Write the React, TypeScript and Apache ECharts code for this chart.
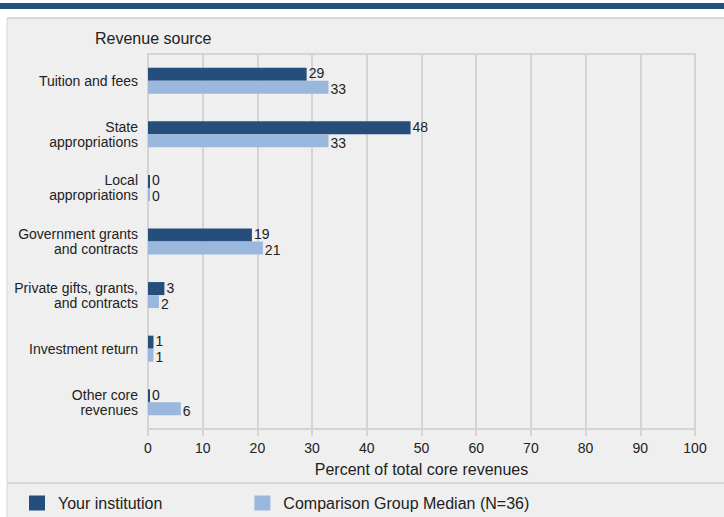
import React, { useEffect, useRef } from "react";
import * as echarts from "echarts";

const categories = [
  "Tuition and fees",
  "State\nappropriations",
  "Local\nappropriations",
  "Government grants\nand contracts",
  "Private gifts, grants,\nand contracts",
  "Investment return",
  "Other core\nrevenues",
];
const yourInstitution = [29, 48, 0, 19, 3, 1, 0];
const comparisonMedian = [33, 33, 0, 21, 2, 1, 6];
const seriesNames = ["Your institution", "Comparison Group Median (N=36)"];
const xTicks = { min: 0, max: 100, interval: 10 };

const FONT = "'Liberation Sans', Arial, sans-serif";
const DARK = "#254e7b";
const LIGHT = "#9ab8de";
const GRIDC = "#d4d4d4";

export default function App() {
  const ref = useRef<HTMLDivElement>(null);
  useEffect(() => {
    if (!ref.current) return;
    const chart = echarts.init(ref.current, undefined, { renderer: "svg" });
    chart.setOption({
      animation: false,
      backgroundColor: "#ffffff",
      textStyle: { fontFamily: FONT },
      graphic: [
        { type: "rect", z: -10, shape: { x: 0, y: 3, width: 724, height: 6 }, style: { fill: DARK } },
        { type: "rect", z: -10, shape: { x: 7, y: 18, width: 717, height: 499 }, style: { fill: "#efefef" } },
        { type: "line", z: -9, shape: { x1: 7, y1: 18, x2: 724, y2: 18 }, style: { stroke: "#d8d8d8", lineWidth: 2 } },
        { type: "line", z: -9, shape: { x1: 7, y1: 18, x2: 7, y2: 517 }, style: { stroke: "#d8d8d8", lineWidth: 1 } },
        { type: "line", z: -9, shape: { x1: 7, y1: 483, x2: 724, y2: 483 }, style: { stroke: "#d8d8d8", lineWidth: 2 } },
        {
          type: "text",
          left: 95,
          top: 30,
          style: { text: "Revenue source", fill: "#222", font: `16px ${FONT}` },
        },
      ],
      legend: {
        left: 24,
        top: 490,
        itemWidth: 16,
        itemHeight: 15,
        itemGap: 92,
        icon: "rect",
        textStyle: { fontSize: 16, color: "#222", fontFamily: FONT, padding: [0, 0, 0, 8] },
        data: seriesNames,
      },
      grid: {
        left: 148,
        right: 29,
        top: 54,
        bottom: 88,
        show: true,
        borderColor: GRIDC,
        borderWidth: 2,
        backgroundColor: "transparent",
      },
      xAxis: {
        type: "value",
        min: xTicks.min,
        max: xTicks.max,
        interval: xTicks.interval,
        name: "Percent of total core revenues",
        nameLocation: "middle",
        nameGap: 32,
        nameTextStyle: { fontSize: 16, color: "#222", fontFamily: FONT },
        axisLine: { show: true, lineStyle: { color: GRIDC, width: 2 } },
        axisTick: { show: true, length: 7, lineStyle: { color: GRIDC, width: 2 } },
        axisLabel: { fontSize: 14, color: "#222", margin: 12, fontFamily: FONT },
        splitLine: { show: true, lineStyle: { color: GRIDC, width: 2 } },
      },
      yAxis: {
        type: "category",
        inverse: true,
        data: categories,
        axisLine: { show: false },
        axisTick: { show: false },
        axisLabel: { fontSize: 14, color: "#222", margin: 10, align: "right", lineHeight: 15, fontFamily: FONT },
      },
      series: [
        {
          name: seriesNames[0],
          type: "bar",
          data: yourInstitution,
          barWidth: 13,
          barGap: "0%",
          barMinHeight: 2,
          itemStyle: { color: DARK },
          label: { show: true, position: "right", distance: 2, fontSize: 14, lineHeight: 12, color: "#222", fontFamily: FONT, offset: [0, -1] },
        },
        {
          name: seriesNames[1],
          type: "bar",
          data: comparisonMedian,
          barWidth: 13,
          barGap: "0%",
          barMinHeight: 2,
          itemStyle: { color: LIGHT },
          label: { show: true, position: "right", distance: 2, fontSize: 14, lineHeight: 12, color: "#222", fontFamily: FONT, offset: [0, 2] },
        },
      ],
    });
    return () => chart.dispose();
  }, []);
  return (
    <div
      ref={ref}
      style={{ position: "fixed", left: 0, top: 0, width: 724, height: 517 }}
    />
  );
}
